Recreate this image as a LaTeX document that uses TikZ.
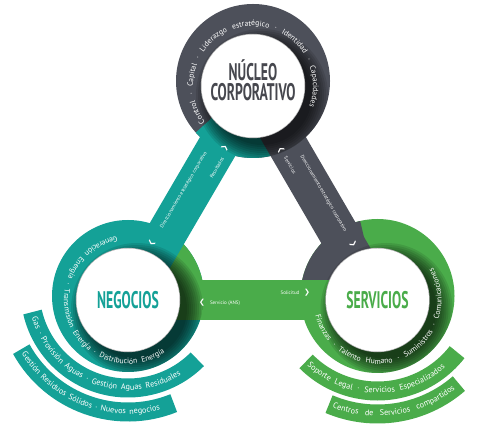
\documentclass[tikz,border=0pt]{standalone}
\usepackage{fontspec}
\setmainfont{PT Sans}
\newfontfamily\titlefont[FakeStretch=0.57]{PT Sans}
\newfontfamily\chevfont{DejaVu Sans}
\usetikzlibrary{positioning,calc,decorations.text}

\definecolor{negteal}{RGB}{20,161,151}
\definecolor{sergreen}{RGB}{74,172,74}
\definecolor{coregray}{RGB}{77,80,90}
\definecolor{titlegray}{RGB}{70,71,78}

\pgfdeclareradialshading{discshade}{\pgfpoint{0bp}{0bp}}{color(0bp)=(white); color(34bp)=(white); color(47bp)=(black!24); color(50bp)=(black!32)}

\begin{document}
\begin{tikzpicture}[x=1pt, y=1pt,
    disc/.style={circle, minimum size=100, inner sep=0pt, shade, shading=discshade, draw=white, line width=3, preaction={draw=black!30, line width=4.4}},
    title/.style={font=\titlefont\bfseries\fontsize{24}{20}\selectfont, align=center},
    ringtext/.style={decorate, decoration={text along path, text color=white, text align={fit to path stretching spaces}, text={|\fontsize{7.7}{9}\selectfont|#1}}},
    striptext/.style={decorate, decoration={text along path, text color=white, text align={fit to path stretching spaces}, text={|\fontsize{8.2}{9}\selectfont|#1}}},
    bandtext/.style={text=white, font=\fontsize{5}{5}\selectfont, inner sep=0pt},
    chev/.style={text=white, font=\chevfont\fontsize{7}{7}\selectfont, inner sep=0pt},
    band/.style={line width=40},
    strip/.style={line width=19}
]
\useasboundingbox (0,0) rectangle (502,438);

% Centres
\coordinate (core) at (253,352);
\coordinate (neg) at (128,138);
\coordinate (ser) at (377.5,138);
\coordinate (ringcore) at (253,357);
\coordinate (ringneg) at (128,142);
\coordinate (ringser) at (377.5,142);
\coordinate (negarc) at (128,148);
\coordinate (serarc) at (377.5,148);

% Rings
\fill[coregray] (ringcore) circle[radius=77];
\fill[negteal] (ringneg) circle[radius=76];
\fill[sergreen] (ringser) circle[radius=77];
\fill[negteal] (ringcore) -- ++(222:77) arc[start angle=222, end angle=284, radius=77] -- cycle;
\fill[sergreen] (ringneg) -- ++(-16:76) arc[start angle=-16, end angle=47, radius=76] -- cycle;
\fill[coregray] (ringser) -- ++(103:77) arc[start angle=103, end angle=168, radius=77] -- cycle;

% Bands
\draw[band, negteal] (neg) -- (core);
\draw[band, coregray] (core) -- (ser);
\draw[band, sergreen] (ser) -- (neg);

% Shadows
\foreach \name/\rad in {core/77, neg/76, ser/77}{
  \begin{scope}
    \clip (ring\name) circle[radius=\rad];
    \foreach \r in {50,52,...,66}
      \fill[black, opacity=0.1] ($(\name)+(9,-9)$) circle[radius=\r];
  \end{scope}
}

% Discs and titles
\node[disc] (coredisc) at (core) {};
\node[title, text=titlegray] (coretitle) at ($(core)+(0,6)$) {NÚCLEO\\CORPORATIVO};
\node[disc] (negdisc) at (neg) {};
\node[title, text=negteal] (negtitle) at (neg) {NEGOCIOS};
\node[disc] (serdisc) at (ser) {};
\node[title, text=sergreen] (sertitle) at (ser) {SERVICIOS};

% Ring texts
\path[ringtext={Control · Capital · Liderazgo estratégico · Identidad · Capacidades}] ($(core)+(217:60)$) arc[start angle=217, end angle=-20, radius=60];
\path[ringtext={Generación Energía · Transmisión Energía · Distribución Energía}] ($(neg)+(100:64)$) arc[start angle=100, end angle=305, radius=64];
\path[ringtext={Finanzas · Talento Humano · Suministros · Comunicaciones}] ($(ser)+(194:64)$) arc[start angle=194, end angle=390, radius=64];

% Band texts
\begin{scope}[shift={(neg)}, rotate=59.7, transform shape]
  \node[bandtext] (negdir) at (123,7.4) {Direccionamiento estratégico corporativo};
  \node[bandtext] (negres) at (159,-10) {Resultados};
  \node[chev] (negup) at (180,-7) {❯};
  \node[chev] (negdown) at (61,8) {❮};
\end{scope}
\begin{scope}[shift={(core)}, rotate=-59.8, transform shape]
  \node[bandtext] (coredir) at (128.4,6.8) {Direccionamiento estratégico corporativo};
  \node[bandtext] (coreserv) at (87,-7.7) {Servicios};
  \node[chev] (coreup) at (69,-8) {❮};
  \node[chev] (coredown) at (187,7) {❯};
\end{scope}
\node[bandtext] (sersol) at (290,145) {Solicitud};
\node[chev] (serright) at (307,145) {❯};
\node[bandtext] (negserv) at (225,135) {Servicio (ANS)};
\node[chev] (negleft) at (202,135) {❮};

% Strips
\draw[strip, negteal] ($(negarc)+(193:98)$) arc[start angle=193, end angle=315, radius=98];
\draw[strip, negteal] ($(negarc)+(209:122)$) arc[start angle=209, end angle=292, radius=122];
\draw[strip, sergreen] ($(serarc)+(225:101)$) arc[start angle=225, end angle=322, radius=101];
\draw[strip, sergreen] ($(serarc)+(247:124)$) arc[start angle=247, end angle=311, radius=124];
\path[striptext={Gas · Provisión Aguas · Gestión Aguas Residuales}] ($(negarc)+(196:100)$) arc[start angle=196, end angle=302, radius=100];
\path[striptext={Gestión Residuos Sólidos · Nuevos negocios}] ($(negarc)+(211:124)$) arc[start angle=211, end angle=285, radius=124];
\path[striptext={Soporte Legal · Servicios Especializados}] ($(serarc)+(227:103)$) arc[start angle=227, end angle=311, radius=103];
\path[striptext={Centros de Servicios compartidos}] ($(serarc)+(249:126)$) arc[start angle=249, end angle=308, radius=126];

\end{tikzpicture}
\end{document}
